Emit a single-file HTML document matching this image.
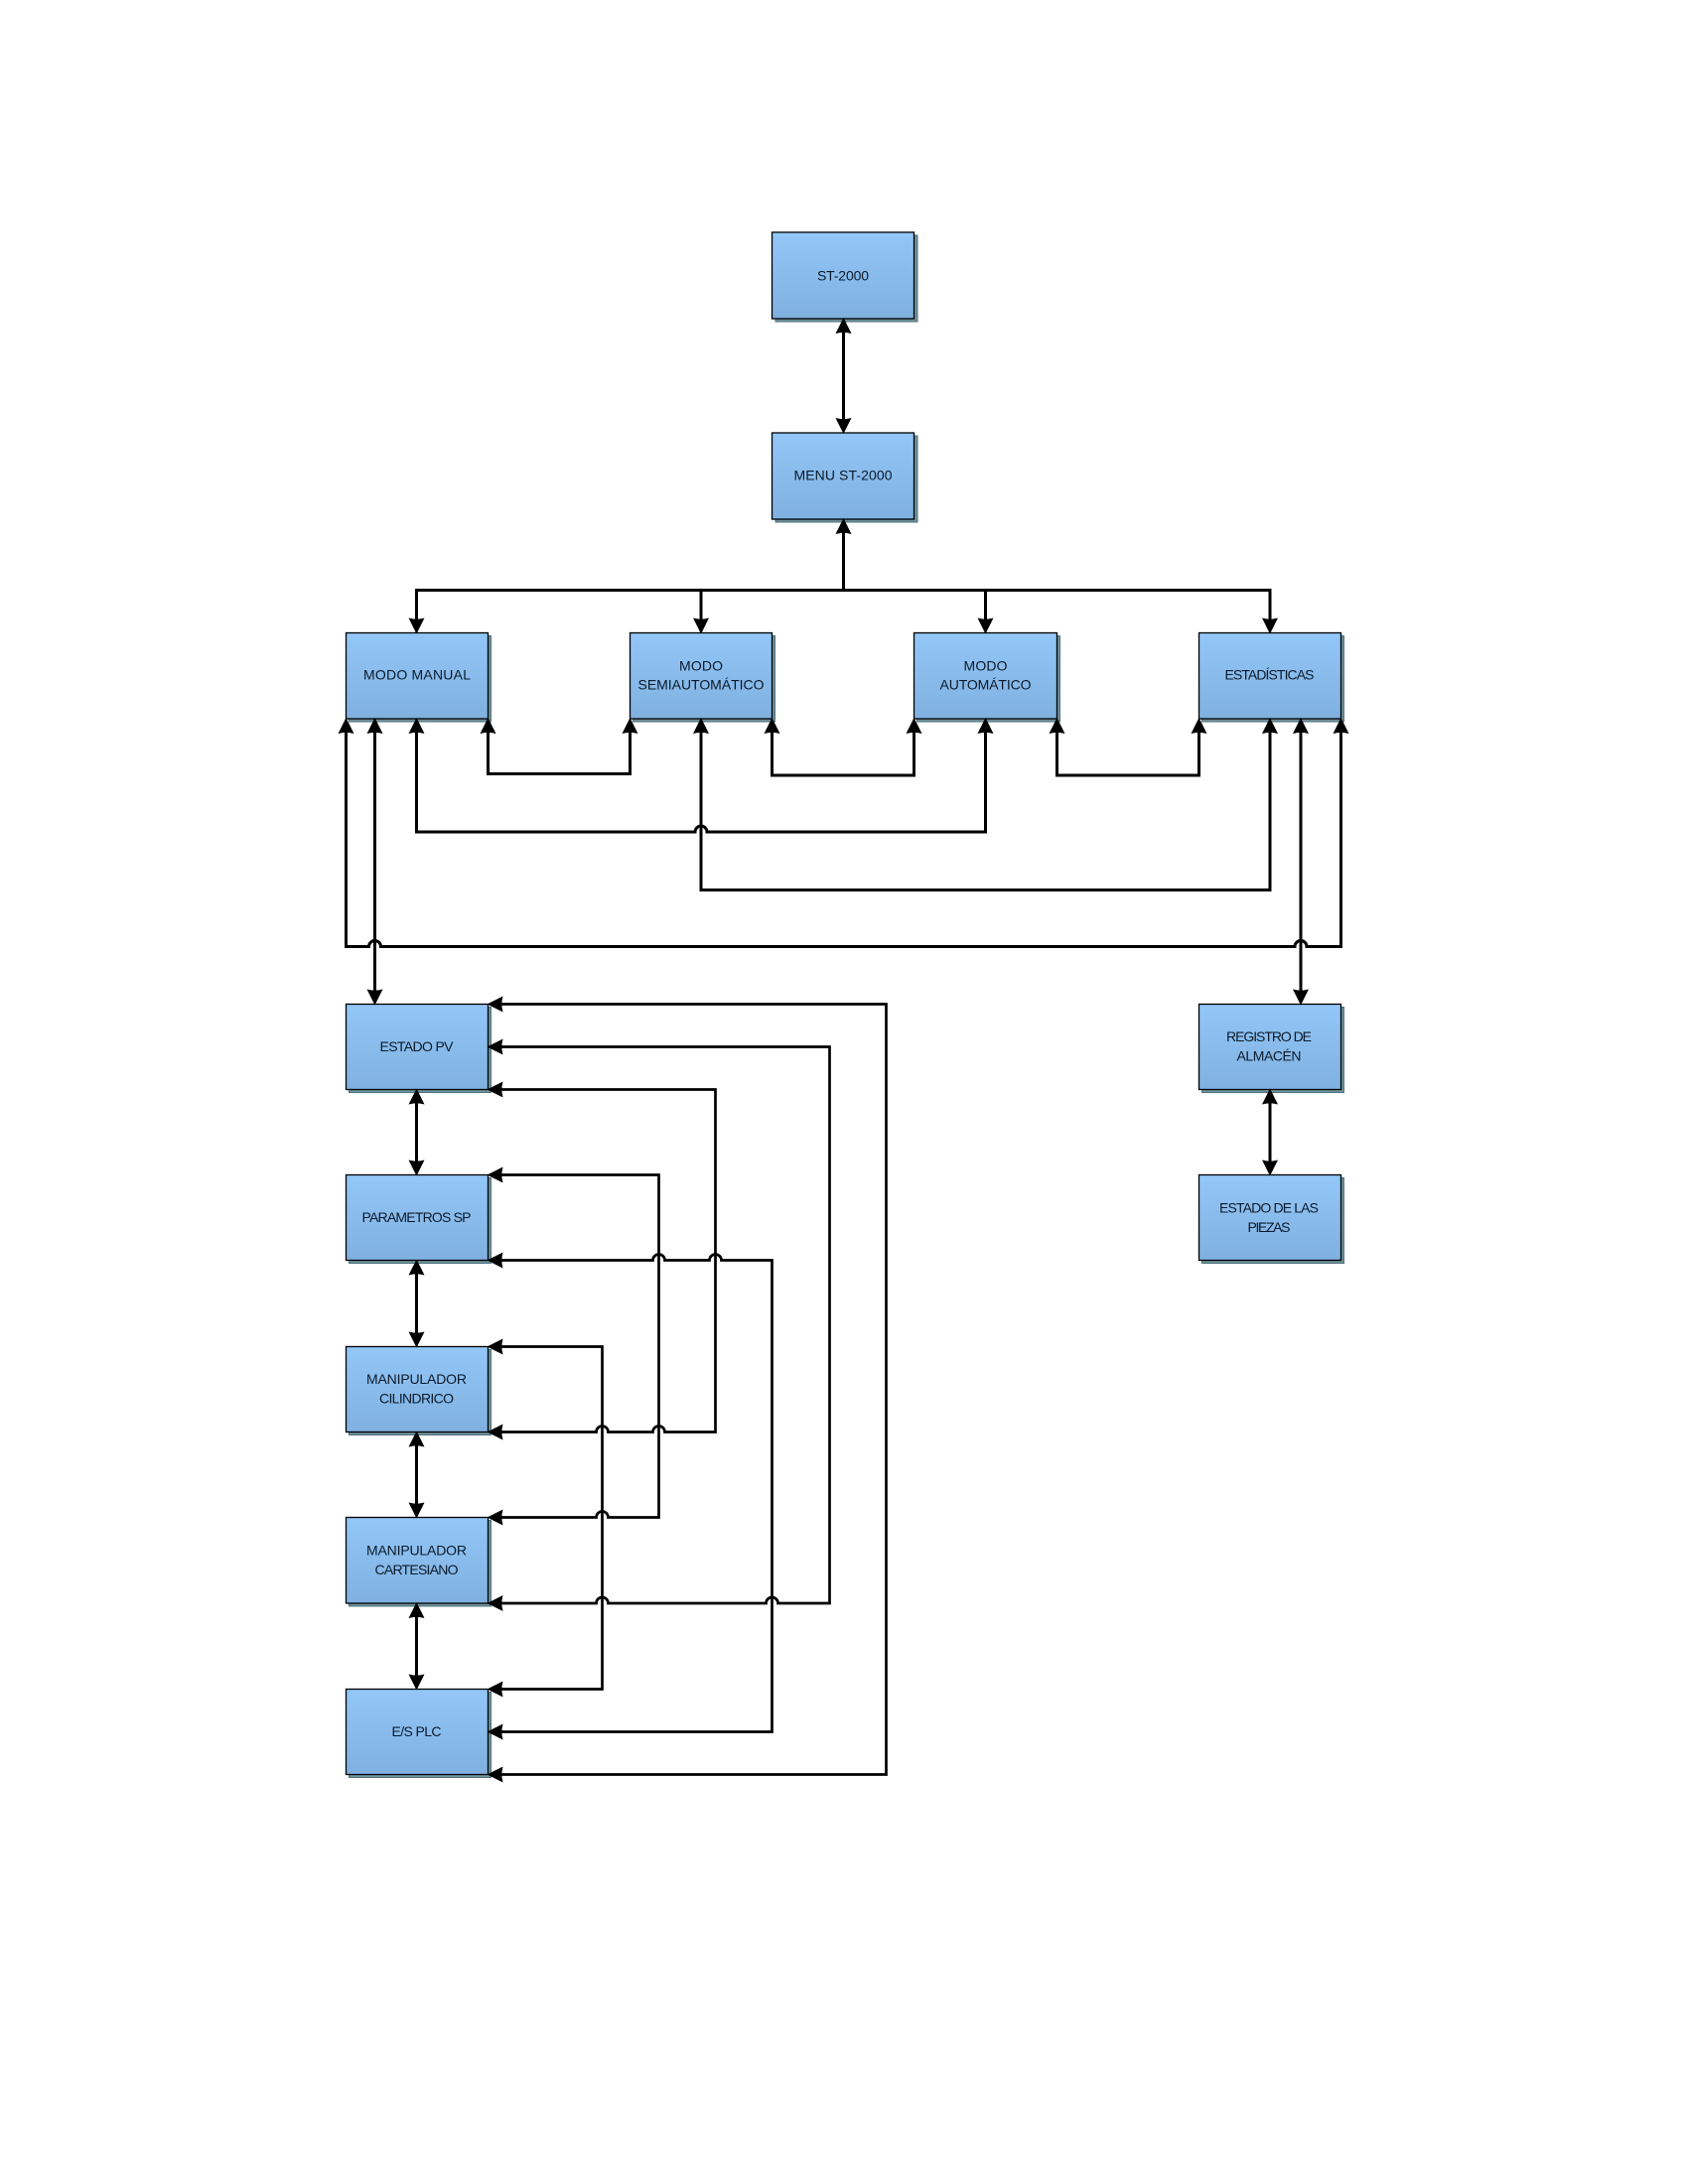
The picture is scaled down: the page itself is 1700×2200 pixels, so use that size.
<!DOCTYPE html>
<html>
<head>
<meta charset="utf-8">
<style>
html,body{margin:0;padding:0;background:#fff;}
svg{display:block;}
text{font-family:"Liberation Sans",sans-serif;font-size:14px;fill:#0b1a2b;text-anchor:middle;}
.s{fill:#6f929b;stroke:#4f727c;stroke-width:1;}
.b{fill:url(#g);stroke:#000;stroke-width:1.3;}
.t{fill:none;stroke:#000;stroke-width:3;stroke-linejoin:miter;}
.l{fill:none;stroke:#000;stroke-width:2.7;stroke-linejoin:miter;}
</style>
</head>
<body>
<svg xmlns="http://www.w3.org/2000/svg" width="1700" height="2200" viewBox="0 0 1700 2200">
<defs>
<linearGradient id="g" x1="0" y1="0" x2="0" y2="1"><stop offset="0" stop-color="#93c7f7"/><stop offset="1" stop-color="#7fb0e0"/></linearGradient>
<polygon id="a" points="0,-1 8,15 3,14 -3,14 -8,15" fill="#000"/>
</defs>
<rect width="1700" height="2200" fill="#fff"/>

<!-- shadows -->
<g class="s">
<rect x="781" y="237" width="143" height="87"/>
<rect x="781" y="439" width="143" height="87"/>
<rect x="351.5" y="640.5" width="143" height="86.5"/>
<rect x="637.5" y="640.5" width="143" height="86.5"/>
<rect x="923.5" y="640.5" width="144" height="86.5"/>
<rect x="1210.5" y="640.5" width="143" height="86.5"/>
<rect x="351.5" y="1014.5" width="143" height="86"/>
<rect x="351.5" y="1186.5" width="143" height="86"/>
<rect x="351.5" y="1359.5" width="143" height="86"/>
<rect x="351.5" y="1531.5" width="143" height="86.5"/>
<rect x="351.5" y="1704.5" width="143" height="86"/>
<rect x="1210.5" y="1014.5" width="143" height="86"/>
<rect x="1210.5" y="1186.5" width="143" height="86"/>
</g>

<!-- boxes -->
<g class="b">
<rect x="777.5" y="234" width="143" height="87"/>
<rect x="777.5" y="436" width="143" height="87"/>
<rect x="348.5" y="637.5" width="143" height="86.5"/>
<rect x="634.5" y="637.5" width="143" height="86.5"/>
<rect x="920.5" y="637.5" width="144" height="86.5"/>
<rect x="1207.5" y="637.5" width="143" height="86.5"/>
<rect x="348.5" y="1011.5" width="143" height="86"/>
<rect x="348.5" y="1183.5" width="143" height="86"/>
<rect x="348.5" y="1356.5" width="143" height="86"/>
<rect x="348.5" y="1528.5" width="143" height="86.5"/>
<rect x="348.5" y="1701.5" width="143" height="86"/>
<rect x="1207.5" y="1011.5" width="143" height="86"/>
<rect x="1207.5" y="1183.5" width="143" height="86"/>
</g>

<!-- labels -->
<text x="849" y="282.5" textLength="52">ST-2000</text>
<text x="849" y="483.5" textLength="99">MENU ST-2000</text>
<text x="420" y="684.5" textLength="108">MODO MANUAL</text>
<text x="706" y="675.5" textLength="44">MODO</text>
<text x="706" y="694.5" textLength="127">SEMIAUTOMÁTICO</text>
<text x="992.5" y="675.5" textLength="44">MODO</text>
<text x="992.5" y="694.5" textLength="92">AUTOMÁTICO</text>
<text x="1278.5" y="684.5" textLength="90">ESTADÍSTICAS</text>
<text x="419.5" y="1058.8" textLength="74">ESTADO PV</text>
<text x="419.5" y="1231" textLength="110">PARAMETROS SP</text>
<text x="419.5" y="1394" textLength="101">MANIPULADOR</text>
<text x="419.5" y="1413.5" textLength="75">CILINDRICO</text>
<text x="419.5" y="1566.5" textLength="101">MANIPULADOR</text>
<text x="419.5" y="1586" textLength="84">CARTESIANO</text>
<text x="419.5" y="1749" textLength="50">E/S PLC</text>
<text x="1278" y="1048.8" textLength="86">REGISTRO DE</text>
<text x="1278" y="1068.5" textLength="65">ALMACÉN</text>
<text x="1278" y="1221.5" textLength="100">ESTADO DE LAS</text>
<text x="1278" y="1241" textLength="43">PIEZAS</text>

<!-- upper connectors -->
<g class="t">
<path d="M849.5 325 V432"/>
<path d="M849.5 527 V594.5"/>
<path d="M419.5 633 V594.5 H1279 V633"/>
<path d="M706 594.5 V633"/>
<path d="M992.5 594.5 V633"/>
<path d="M491.5 730 V779.5 H634.5 V730"/>
<path d="M777.5 730 V781 H920.5 V730"/>
<path d="M1064.5 730 V781 H1207.5 V730"/>
<path d="M419.5 730 V838 H700 A6 6 0 0 1 712 838 H992.5 V730"/>
<path d="M706 730 V896.5 H1279 V730"/>
<path d="M348.5 730 V953.5 H371.5 A6 6 0 0 1 383.5 953.5 H1304 A6 6 0 0 1 1316 953.5 H1350.5 V730"/>
<path d="M377.5 730 V1005"/>
<path d="M1310 730 V1005"/>
<path d="M419.5 1102 V1179"/>
<path d="M419.5 1274 V1352"/>
<path d="M419.5 1447 V1524"/>
<path d="M419.5 1619 V1697"/>
<path d="M1279 1102 V1179"/>
</g>

<!-- lower connectors -->
<g class="l">
<path d="M496 1011.5 H892.5 V1787.5 H496"/>
<path d="M496 1054.5 H835.5 V1615 H783.5 A6 6 0 0 0 771.5 1615 H612.5 A6 6 0 0 0 600.5 1615 H496"/>
<path d="M496 1097.5 H720.5 V1442.5 H669.5 A6 6 0 0 0 657.5 1442.5 H612.5 A6 6 0 0 0 600.5 1442.5 H496"/>
<path d="M496 1183.5 H663.5 V1528.5 H612.5 A6 6 0 0 0 600.5 1528.5 H496"/>
<path d="M496 1269.5 H657.5 A6 6 0 0 1 669.5 1269.5 H714.5 A6 6 0 0 1 726.5 1269.5 H777.5 V1744.5 H496"/>
<path d="M496 1356.5 H606.5 V1701.5 H496"/>
</g>

<!-- arrows up -->
<use href="#a" transform="translate(849.5,321)"/>
<use href="#a" transform="translate(849.5,523)"/>
<use href="#a" transform="translate(348.5,724)"/>
<use href="#a" transform="translate(377.5,724)"/>
<use href="#a" transform="translate(419.5,724)"/>
<use href="#a" transform="translate(491.5,724)"/>
<use href="#a" transform="translate(634.5,724)"/>
<use href="#a" transform="translate(706,724)"/>
<use href="#a" transform="translate(777.5,724)"/>
<use href="#a" transform="translate(920.5,724)"/>
<use href="#a" transform="translate(992.5,724)"/>
<use href="#a" transform="translate(1064.5,724)"/>
<use href="#a" transform="translate(1207.5,724)"/>
<use href="#a" transform="translate(1279,724)"/>
<use href="#a" transform="translate(1310,724)"/>
<use href="#a" transform="translate(1350.5,724)"/>
<use href="#a" transform="translate(419.5,1097.5)"/>
<use href="#a" transform="translate(419.5,1269.5)"/>
<use href="#a" transform="translate(419.5,1442.5)"/>
<use href="#a" transform="translate(419.5,1615)"/>
<use href="#a" transform="translate(1279,1097.5)"/>

<!-- arrows down -->
<use href="#a" transform="translate(849.5,436) rotate(180)"/>
<use href="#a" transform="translate(419.5,637.5) rotate(180)"/>
<use href="#a" transform="translate(706,637.5) rotate(180)"/>
<use href="#a" transform="translate(992.5,637.5) rotate(180)"/>
<use href="#a" transform="translate(1279,637.5) rotate(180)"/>
<use href="#a" transform="translate(377.5,1011.5) rotate(180)"/>
<use href="#a" transform="translate(1310,1011.5) rotate(180)"/>
<use href="#a" transform="translate(419.5,1183.5) rotate(180)"/>
<use href="#a" transform="translate(419.5,1356.5) rotate(180)"/>
<use href="#a" transform="translate(419.5,1528.5) rotate(180)"/>
<use href="#a" transform="translate(419.5,1701.5) rotate(180)"/>
<use href="#a" transform="translate(1279,1183.5) rotate(180)"/>

<!-- arrows left -->
<use href="#a" transform="translate(491.5,1011.5) rotate(-90)"/>
<use href="#a" transform="translate(491.5,1054.5) rotate(-90)"/>
<use href="#a" transform="translate(491.5,1097.5) rotate(-90)"/>
<use href="#a" transform="translate(491.5,1183.5) rotate(-90)"/>
<use href="#a" transform="translate(491.5,1269.5) rotate(-90)"/>
<use href="#a" transform="translate(491.5,1356.5) rotate(-90)"/>
<use href="#a" transform="translate(491.5,1442.5) rotate(-90)"/>
<use href="#a" transform="translate(491.5,1528.5) rotate(-90)"/>
<use href="#a" transform="translate(491.5,1615) rotate(-90)"/>
<use href="#a" transform="translate(491.5,1701.5) rotate(-90)"/>
<use href="#a" transform="translate(491.5,1744.5) rotate(-90)"/>
<use href="#a" transform="translate(491.5,1787.5) rotate(-90)"/>
</svg>
</body>
</html>
